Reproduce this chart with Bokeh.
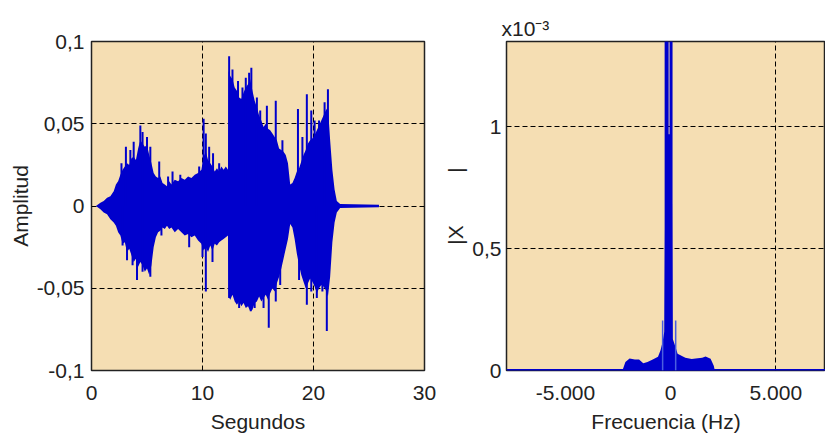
from bokeh.plotting import figure
from bokeh.layouts import row
from bokeh.models import FixedTicker, Range1d
from bokeh.embed import file_html
from bokeh.resources import INLINE

# ---------------- data: waveform envelope (seconds, amplitude) ----------------
env_t = [0.4, 0.8, 1.1, 1.4, 1.7, 2.0, 2.2, 2.4, 2.6, 2.8, 3.0, 3.2, 3.4, 3.6,
         3.8, 4.0, 4.2, 4.4, 4.6, 4.8, 5.0, 5.2, 5.4, 5.6, 5.8, 6.0, 6.2, 6.4,
         6.6, 6.8, 7.0, 7.2, 7.5, 7.8, 8.1, 8.4, 8.7, 9.0, 9.3, 9.6, 9.9, 10.1,
         10.3, 10.5, 10.7, 10.9, 11.1, 11.3, 11.5, 11.7, 11.9, 12.1, 12.3, 12.35,
         12.5, 12.7, 12.9, 13.1, 13.3, 13.5, 13.7, 13.9, 14.1, 14.3, 14.5, 14.7,
         14.9, 15.1, 15.3, 15.5, 15.7, 15.9, 16.1, 16.3, 16.5, 16.7, 16.9, 17.1,
         17.3, 17.5, 17.7, 17.9, 18.1, 18.3, 18.5, 18.7, 18.9, 19.1, 19.3, 19.5,
         19.7, 19.9, 20.1, 20.3, 20.5, 20.7, 20.9, 21.1, 21.3, 21.5, 21.7, 21.9,
         22.1, 22.4, 25.9]
env_up = [0.0, 0.002, 0.003, 0.005, 0.006, 0.009, 0.013, 0.015, 0.019, 0.022,
          0.024, 0.026, 0.025, 0.029, 0.030, 0.028, 0.035, 0.040, 0.038, 0.036,
          0.037, 0.031, 0.026, 0.020, 0.018, 0.017, 0.018, 0.014, 0.013, 0.012,
          0.015, 0.013, 0.016, 0.015, 0.017, 0.016, 0.018, 0.017, 0.019, 0.020,
          0.022, 0.030, 0.033, 0.028, 0.026, 0.024, 0.021, 0.023, 0.021, 0.024,
          0.022, 0.024, 0.022, 0.082, 0.079, 0.077, 0.072, 0.070, 0.066, 0.065,
          0.069, 0.072, 0.074, 0.077, 0.070, 0.064, 0.060, 0.055, 0.052, 0.048,
          0.050, 0.047, 0.046, 0.044, 0.042, 0.040, 0.035, 0.034, 0.033, 0.031,
          0.026, 0.013, 0.014, 0.017, 0.021, 0.023, 0.027, 0.031, 0.034, 0.038,
          0.040, 0.041, 0.043, 0.046, 0.049, 0.052, 0.055, 0.058, 0.060, 0.040,
          0.022, 0.010, 0.003, 0.0012, 0.0008]
env_lo = [0.0, -0.002, -0.004, -0.005, -0.008, -0.010, -0.012, -0.016, -0.018,
          -0.023, -0.022, -0.028, -0.026, -0.030, -0.034, -0.032, -0.037, -0.034,
          -0.036, -0.040, -0.038, -0.042, -0.036, -0.025, -0.019, -0.016, -0.015,
          -0.013, -0.014, -0.012, -0.014, -0.013, -0.016, -0.014, -0.016, -0.018,
          -0.017, -0.019, -0.018, -0.021, -0.023, -0.027, -0.025, -0.028, -0.024,
          -0.027, -0.023, -0.024, -0.022, -0.021, -0.020, -0.019, -0.018, -0.055,
          -0.057, -0.054, -0.058, -0.060, -0.058, -0.061, -0.059, -0.062, -0.061,
          -0.064, -0.063, -0.059, -0.058, -0.055, -0.058, -0.056, -0.054, -0.057,
          -0.053, -0.050, -0.052, -0.047, -0.043, -0.038, -0.032, -0.026, -0.020,
          -0.011, -0.013, -0.020, -0.029, -0.036, -0.042, -0.046, -0.050, -0.047,
          -0.044, -0.046, -0.049, -0.053, -0.050, -0.048, -0.049, -0.051, -0.055,
          -0.043, -0.022, -0.010, -0.004, -0.0012, -0.0008]

spike_up_t = [2.7, 3.1, 3.5, 3.8, 4.4, 4.6, 5.0, 5.3, 6.1, 6.9, 7.3, 8.0, 9.7,
              10.1, 10.3, 10.6, 10.95, 11.5, 12.4, 12.7, 13.2, 13.6, 13.9, 14.2,
              14.4, 14.9, 15.2, 15.8, 16.6, 17.2, 18.6, 19.0, 19.4, 19.8, 20.1,
              20.5, 21.0, 21.3]
spike_up_v = [0.026, 0.036, 0.034, 0.039, 0.049, 0.045, 0.042, 0.036, 0.027,
              0.018, 0.021, 0.019, 0.024, 0.053, 0.044, 0.036, 0.032, 0.026,
              0.091, 0.083, 0.076, 0.072, 0.078, 0.081, 0.084, 0.066, 0.058,
              0.061, 0.064, 0.040, 0.059, 0.042, 0.068, 0.058, 0.052, 0.052,
              0.063, 0.071]
spike_lo_t = [2.8, 3.2, 3.7, 4.1, 4.6, 5.3, 6.3, 8.8, 10.0, 10.3, 10.9, 12.4,
              13.3, 14.35, 14.7, 15.5, 15.97, 16.6, 17.0, 18.7, 19.4, 19.8,
              20.3, 20.8, 21.2]
spike_lo_v = [-0.024, -0.033, -0.036, -0.045, -0.040, -0.043, -0.018, -0.025,
              -0.031, -0.052, -0.034, -0.056, -0.062, -0.064, -0.062, -0.062,
              -0.074, -0.058, -0.048, -0.045, -0.060, -0.052, -0.056, -0.052,
              -0.076]

# ---------------- data: spectrum (Hz, |X| in units of 1e-3) ----------------
hump_f = [-2290, -2150, -1950, -1700, -1500, -1300, -1100, -850, -600, -480,
          -380, -300, -240, 50, 100, 220, 330, 700, 1000, 1190, 1500, 1660,
          1900, 2050, 2100]
hump_m = [0.0, 0.035, 0.049, 0.045, 0.045, 0.030, 0.035, 0.045, 0.056, 0.083,
          0.118, 0.16, 0.97, 0.97, 0.13, 0.10, 0.069, 0.052, 0.047, 0.049,
          0.052, 0.057, 0.048, 0.020, 0.0]
peak_f = [-190, 20]
peak_m = [1.6, 1.6]
side_f = [-380, 240]
side_m = [0.205, 0.205]
spec_span = [-7800, 7360]

t_ticks = [0, 10, 20, 30]
a_ticks = [-0.1, -0.05, 0, 0.05, 0.1]
a_labels = ["-0,1", "-0,05", "0", "0,05", "0,1"]
f_ticks = [-5000, 0, 5000]
f_labels = ["-5.000", "0", "5.000"]
m_ticks = [0, 0.5, 1]
m_labels = ["0", "0,5", "1"]

FONT = "Liberation Sans"
FS = "21px"
BG = "#f5deb3"
BLUE = "#0000cc"
TXT = "#222222"


def style(p, ylab_standoff):
    p.grid.grid_line_color = "black"
    p.grid.grid_line_dash = "5 3"
    p.grid.grid_line_width = 1
    for ax in p.axis:
        ax.axis_line_color = None
        ax.major_tick_line_color = None
        ax.minor_tick_line_color = None
        ax.major_tick_in = 0
        ax.major_tick_out = 0
        ax.minor_tick_in = 0
        ax.minor_tick_out = 0
        ax.major_label_text_font = FONT
        ax.major_label_text_font_size = FS
        ax.major_label_text_color = TXT
        ax.axis_label_text_font = FONT
        ax.axis_label_text_font_size = FS
        ax.axis_label_text_font_style = "normal"
        ax.axis_label_text_color = TXT
    p.xaxis.major_label_standoff = 15
    p.xaxis.axis_label_standoff = 7
    p.yaxis.major_label_standoff = ylab_standoff
    p.yaxis.axis_label_standoff = 2


p1 = figure(width=441, height=435, x_range=Range1d(0, 30),
            y_range=Range1d(-0.1, 0.1), output_backend="svg",
            toolbar_location=None, min_border_left=91, min_border_right=17,
            min_border_top=41, min_border_bottom=62, background_fill_color=BG,
            border_fill_color="white", outline_line_color="#222222",
            outline_line_width=1.5)
p1.varea(x=env_t, y1=env_lo, y2=env_up, fill_color=BLUE)
p1.segment(x0=spike_up_t, y0=[0] * len(spike_up_t), x1=spike_up_t,
           y1=spike_up_v, line_color=BLUE, line_width=2)
p1.segment(x0=spike_lo_t, y0=[0] * len(spike_lo_t), x1=spike_lo_t,
           y1=spike_lo_v, line_color=BLUE, line_width=2)
style(p1, 7)
p1.xaxis.ticker = FixedTicker(ticks=t_ticks)
p1.yaxis.ticker = FixedTicker(ticks=a_ticks)
p1.yaxis.major_label_overrides = dict(zip(a_ticks, a_labels))
p1.xgrid.ticker = FixedTicker(ticks=t_ticks[1:-1])
p1.ygrid.ticker = FixedTicker(ticks=a_ticks[1:-1])
p1.xaxis.axis_label = "Segundos"
p1.yaxis.axis_label = "Amplitud"

p2 = figure(width=384, height=435,
            x_range=Range1d(spec_span[0], spec_span[1]),
            y_range=Range1d(0, 1.351), output_backend="svg",
            toolbar_location=None, min_border_left=62, min_border_right=0,
            min_border_top=41, min_border_bottom=62, background_fill_color=BG,
            border_fill_color="white", outline_line_color="#222222",
            outline_line_width=1.5)
p2.line(x=spec_span, y=[0, 0], line_color=BLUE, line_width=3)
p2.varea(x=hump_f, y1=[0] * len(hump_f), y2=hump_m, fill_color=BLUE)
p2.segment(x0=peak_f, y0=[0, 0], x1=peak_f, y1=peak_m, line_color=BLUE,
           line_width=[4, 3])
p2.segment(x0=side_f, y0=[0, 0], x1=side_f, y1=side_m, line_color="#4a5ee0",
           line_width=1.5)
style(p2, 5)
p2.xaxis.ticker = FixedTicker(ticks=f_ticks)
p2.xaxis.major_label_overrides = dict(zip(f_ticks, f_labels))
p2.yaxis.ticker = FixedTicker(ticks=m_ticks)
p2.yaxis.major_label_overrides = dict(zip(m_ticks, m_labels))
p2.xgrid.ticker = FixedTicker(ticks=[5000])
p2.ygrid.ticker = FixedTicker(ticks=[0.5, 1])
p2.xaxis.axis_label = "Frecuencia (Hz)"
p2.yaxis.axis_label = "|X" + "\u00a0" * 9 + "|"
p2.title.text = "x10\u207b\u00b3"
p2.title.align = "left"
p2.title.offset = -5
p2.title.standoff = 3
p2.title.text_font = FONT
p2.title.text_font_size = FS
p2.title.text_font_style = "normal"
p2.title.text_color = TXT

layout = row(p1, p2)
open("out.html", "w").write(file_html(layout, INLINE))
